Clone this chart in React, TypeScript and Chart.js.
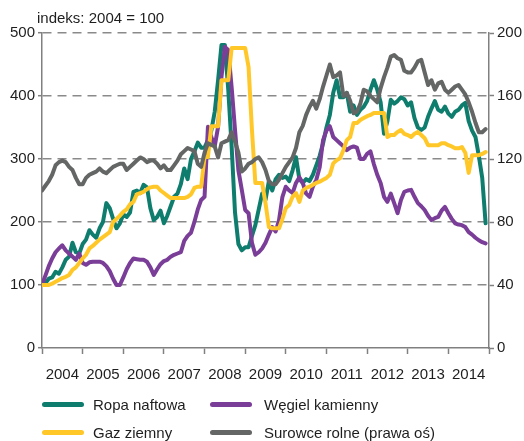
import React, { useEffect, useRef } from 'react';
import { Chart, registerables } from 'chart.js';

Chart.register(...registerables);

// ---- data (monthly, Jan 2004 .. Dec 2014) ----
const yearLabels = ['2004', '2005', '2006', '2007', '2008', '2009', '2010', '2011', '2012', '2013', '2014'];
const titleText = 'indeks: 2004 = 100';
const leftTicks = [0, 100, 200, 300, 400, 500];
const rightTicks = [0, 40, 80, 120, 160, 200];
const seriesNames = ['Ropa naftowa', 'Węgiel kamienny', 'Gaz ziemny', 'Surowce rolne (prawa oś)'];

const ropaNaftowa = [
  100, 103, 110, 112, 121, 118, 128, 140, 145, 167, 152, 150,
  165, 172, 187, 180, 175, 190, 200, 230, 222, 205, 190, 198,
  212, 208, 215, 248, 250, 246, 259, 255, 222, 203, 208, 218,
  198, 210, 225, 240, 245, 260, 285, 268, 300, 312, 326, 318,
  318, 330, 345, 375, 425, 481, 481, 410, 320, 215, 165, 155,
  160, 160, 178, 195, 220, 245, 235, 265, 250, 268, 275, 270,
  272, 265, 282, 303, 268, 262, 268, 265, 275, 290, 305, 325,
  350, 370, 405, 425, 398, 398, 405, 375, 385, 370, 378, 383,
  392, 410, 425, 410, 390, 340, 360, 394, 388, 392, 398, 395,
  385, 390, 365, 350, 346, 350, 367, 380, 392, 378, 375, 383,
  372, 367, 375, 378, 385, 389, 360, 345, 335, 305, 270, 198,
];

const wegielKamienny = [
  100, 115, 130, 142, 152, 158, 163, 155, 150, 145, 140, 150,
  135, 132, 136, 137, 137, 137, 135, 130, 122, 110, 100, 100,
  112, 125, 135, 142, 141, 140, 140, 137, 128, 116, 125, 133,
  138, 140, 145, 148, 150, 152, 170, 178, 183, 200, 220, 235,
  240, 351, 335, 320, 351, 430, 478, 473, 414, 346, 282, 251,
  219, 214, 167, 148, 152, 158, 167, 180, 192, 185, 203, 240,
  256, 250, 246, 262, 271, 262, 245, 240, 256, 267, 287, 330,
  345, 352, 335, 330, 325, 320, 314, 318, 320, 318, 300, 300,
  308, 312, 292, 275, 262, 240, 232, 245, 230, 214, 235, 248,
  250, 251, 240, 230, 225, 219, 210, 203, 206, 208, 218, 224,
  214, 205, 198, 196, 195, 192, 184, 180, 175, 171, 168, 166,
];

const gazZiemny = [
  100, 100, 100, 102, 105, 108, 111, 113, 116, 124, 128, 135,
  142, 148, 158, 162, 167, 172, 176, 180, 184, 200, 205, 210,
  216, 220, 228, 232, 244, 246, 248, 252, 255, 256, 256, 250,
  246, 242, 238, 238, 238, 238, 238, 240, 244, 254, 256, 256,
  303, 303, 352, 352, 352, 425, 425, 425, 476, 476, 476, 476,
  476, 446, 346, 262, 262, 262, 230, 192, 190, 190, 190, 205,
  222, 227, 240, 246, 232, 250, 254, 256, 259, 262, 264, 267,
  270, 275, 293, 298, 301, 314, 330, 335, 357, 357, 362, 365,
  368, 370, 373, 373, 373, 373, 335, 338, 338, 343, 346, 340,
  338, 335, 340, 343, 338, 333, 322, 322, 322, 322, 325, 325,
  322, 320, 317, 317, 319, 310, 278, 306, 306, 306, 308, 311,
];

const surowceRolne = [
  100, 103, 106, 110, 116, 118, 119, 118, 115, 113, 108, 104,
  104, 108, 110, 111, 112, 114, 112, 111, 113, 115, 116, 117,
  117, 113, 115, 117, 119, 121, 120, 118, 119, 119, 117, 114,
  116, 113, 113, 116, 119, 123, 125, 127, 126, 125, 117, 115,
  124, 130, 129, 128, 121, 130, 131, 132, 137, 131, 124, 112,
  114, 117, 118, 120, 121, 118, 113, 106, 104, 104, 107, 111,
  115, 118, 121, 127, 137, 141, 148, 153, 157, 152, 158, 166,
  173, 180, 172, 173, 175, 160, 162, 157, 149, 150, 155, 164,
  163, 160, 158, 156, 165, 172, 178, 185, 186, 184, 183, 176,
  175, 175, 178, 182, 183, 175, 167, 170, 164, 168, 169, 164,
  162, 164, 166, 167, 164, 161, 156, 150, 143, 137, 137, 139,
];

// ---- styles ----
const COLORS = ['#0f7d6e', '#7a3e98', '#ffc828', '#646666'];
const FONT = "'Liberation Sans', Arial, Helvetica, sans-serif";
const TEXT = '#1e1e1e';
const GRID = '#8a8a8a';
const AXIS = '#808080';

const toPoints = (arr: number[]) => arr.map((y, i) => ({ x: i, y }));

export default function App() {
  const canvasRef = useRef<HTMLCanvasElement | null>(null);

  useEffect(() => {
    const canvas = canvasRef.current;
    if (!canvas) return;
    const monthsTotal = yearLabels.length * 12;
    const chart = new Chart(canvas, {
      type: 'line',
      data: {
        datasets: [
          { label: seriesNames[0], data: toPoints(ropaNaftowa), borderColor: COLORS[0], yAxisID: 'y', order: 4 },
          { label: seriesNames[1], data: toPoints(wegielKamienny), borderColor: COLORS[1], yAxisID: 'y', order: 3 },
          { label: seriesNames[2], data: toPoints(gazZiemny), borderColor: COLORS[2], yAxisID: 'y', order: 2 },
          { label: seriesNames[3], data: toPoints(surowceRolne), borderColor: COLORS[3], yAxisID: 'y1', order: 1 },
        ],
      },
      options: {
        animation: false,
        responsive: false,
        maintainAspectRatio: false,
        devicePixelRatio: 1,
        layout: { padding: { top: 33, left: 0, right: 0, bottom: 0 } },
        plugins: {
          legend: { display: false },
          tooltip: { enabled: false },
          title: { display: false },
        },
        elements: {
          point: { radius: 0 },
          line: { tension: 0, borderWidth: 4, borderCapStyle: 'round', borderJoinStyle: 'round', fill: false },
        },
        scales: {
          x: {
            type: 'linear',
            position: 'bottom',
            min: 0,
            max: monthsTotal,
            afterFit: (s: any) => { s.height = 93; },
            ticks: {
              stepSize: 6,
              autoSkip: false,
              maxRotation: 0,
              minRotation: 0,
              padding: 12,
              color: TEXT,
              font: { family: FONT, size: 15 },
              callback: (v: any) => {
                const n = Number(v);
                return n % 12 === 6 ? yearLabels[(n - 6) / 12] : '';
              },
            },
            grid: {
              drawOnChartArea: false,
              drawTicks: true,
              tickLength: 6,
              tickWidth: 1.5,
              tickColor: (ctx: any) => (ctx.tick && ctx.tick.value % 12 === 0 ? AXIS : 'rgba(0,0,0,0)'),
            },
            border: { display: true, color: AXIS, width: 1.5 },
          },
          y: {
            type: 'linear',
            position: 'left',
            min: leftTicks[0],
            max: leftTicks[leftTicks.length - 1],
            afterFit: (s: any) => { s.width = 42; },
            ticks: {
              stepSize: leftTicks[1] - leftTicks[0],
              padding: 3,
              color: TEXT,
              font: { family: FONT, size: 15 },
            },
            grid: {
              color: (ctx: any) => (ctx.tick && ctx.tick.value === 0 ? 'rgba(0,0,0,0)' : GRID),
              lineWidth: 1.4,
              drawTicks: true,
              tickLength: 4,
              tickColor: AXIS,
              tickWidth: 1.5,
            },
            border: { display: true, color: AXIS, width: 1.5, dash: [9, 6] },
          },
          y1: {
            type: 'linear',
            position: 'right',
            min: rightTicks[0],
            max: rightTicks[rightTicks.length - 1],
            afterFit: (s: any) => { s.width = 35; },
            ticks: {
              stepSize: rightTicks[1] - rightTicks[0],
              padding: 3,
              color: TEXT,
              font: { family: FONT, size: 15 },
            },
            grid: {
              drawOnChartArea: false,
              drawTicks: true,
              tickLength: 5,
              tickColor: AXIS,
              tickWidth: 1.5,
            },
            border: { display: true, color: AXIS, width: 1.5 },
          },
        },
      } as any,
    });
    return () => chart.destroy();
  }, []);

  const legendPos = [
    { left: 42, top: 397 },
    { left: 210, top: 397 },
    { left: 42, top: 425 },
    { left: 210, top: 425 },
  ];

  return (
    <div style={{ position: 'absolute', left: 0, top: 0, width: 524, height: 441, background: '#fff', overflow: 'hidden' }}>
      <canvas ref={canvasRef} width={524} height={441} style={{ position: 'absolute', left: 0, top: 0, width: 524, height: 441 }} />
      <div style={{ position: 'absolute', left: 37, top: 10, fontFamily: FONT, fontSize: 15, lineHeight: '15px', color: TEXT, whiteSpace: 'nowrap' }}>
        {titleText}
      </div>
      {seriesNames.map((name, i) => (
        <div key={name} style={{ position: 'absolute', left: legendPos[i].left, top: legendPos[i].top, height: 15, whiteSpace: 'nowrap' }}>
          <div style={{ position: 'absolute', left: 0, top: 5, width: 42, height: 5, borderRadius: 3, background: COLORS[i] }} />
          <div style={{ position: 'absolute', left: i % 2 === 0 ? 51 : 54, top: 0, fontFamily: FONT, fontSize: 15, lineHeight: '15px', color: TEXT }}>
            {name}
          </div>
        </div>
      ))}
    </div>
  );
}
